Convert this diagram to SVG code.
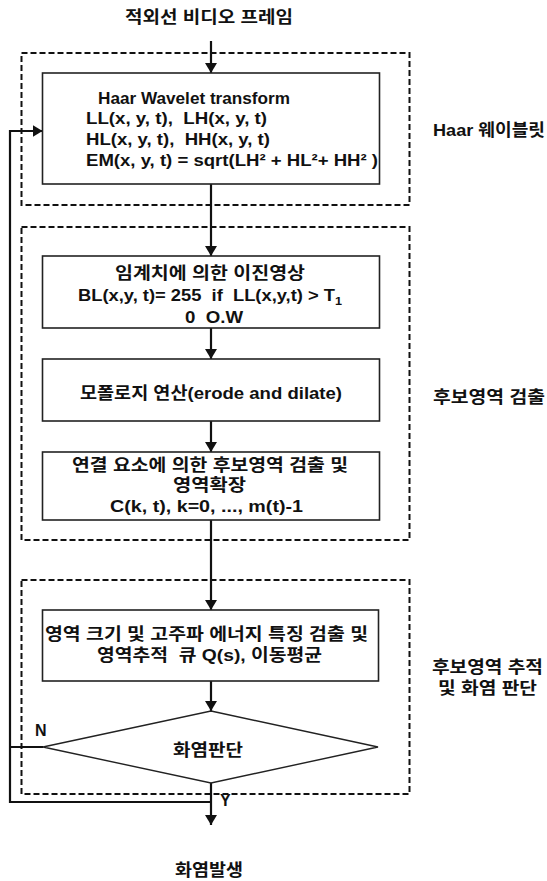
<svg xmlns="http://www.w3.org/2000/svg" width="547" height="881" viewBox="0 0 547 881">
<style>
text{font-family:"Liberation Sans","Noto Sans CJK KR",sans-serif;font-weight:bold;fill:#111;font-size:16px;white-space:pre}
.k{font-size:17px}
.mid{text-anchor:middle}
.box{fill:#fff;stroke:#222;stroke-width:1.6}
.dash{fill:none;stroke:#111;stroke-width:2;stroke-dasharray:6 3}
.con{fill:none;stroke:#111;stroke-width:2.2}
.dia{fill:#fff;stroke:#222;stroke-width:1.4}
</style>
<defs>
<marker id="ah" viewBox="0 0 10 12" refX="10" refY="6" markerWidth="10" markerHeight="12" markerUnits="userSpaceOnUse" orient="auto">
<path d="M0,0 L10,6 L0,12 Z" fill="#111"/>
</marker>
</defs>

<g id="groups">
<rect id="g-haar" class="dash" x="21.5" y="53" width="388" height="152"/>
<rect id="g-detect" class="dash" x="21.5" y="227" width="388" height="313"/>
<rect id="g-track" class="dash" x="21.5" y="580" width="388" height="214"/>
</g>

<g id="connectors">
<line class="con" x1="211" y1="41" x2="211" y2="73" marker-end="url(#ah)"/>
<line class="con" x1="211" y1="184" x2="211" y2="256" marker-end="url(#ah)"/>
<line class="con" x1="211" y1="328" x2="211" y2="359" marker-end="url(#ah)"/>
<line class="con" x1="211" y1="421" x2="211" y2="452" marker-end="url(#ah)"/>
<line class="con" x1="211" y1="520" x2="211" y2="610" marker-end="url(#ah)"/>
<line class="con" x1="211" y1="681" x2="211" y2="711" marker-end="url(#ah)"/>
<line class="con" x1="211" y1="783" x2="211" y2="825" marker-end="url(#ah)"/>
<path class="con" d="M43,747 H10"/>
<path class="con" d="M211,802 H10 V131 H42.5" marker-end="url(#ah)"/>
</g>

<g id="title">
<text class="k mid" x="209" y="23" textLength="168" lengthAdjust="spacingAndGlyphs">적외선 비디오 프레임</text>
</g>

<g id="n-haar">
<rect class="box" x="42.5" y="73" width="337" height="111"/>
<text x="98" y="104" textLength="192" lengthAdjust="spacingAndGlyphs">Haar Wavelet transform</text>
<text x="86" y="124" textLength="181" lengthAdjust="spacingAndGlyphs" xml:space="preserve">LL(x, y, t),  LH(x, y, t)</text>
<text x="86" y="145" textLength="184" lengthAdjust="spacingAndGlyphs" xml:space="preserve">HL(x, y, t),  HH(x, y, t)</text>
<text x="86" y="166" textLength="292" lengthAdjust="spacingAndGlyphs">EM(x, y, t) = sqrt(LH² + HL²+ HH² )</text>
</g>

<g id="n-binary">
<rect class="box" x="42.5" y="256" width="337" height="72"/>
<text class="k" x="115" y="279" textLength="190" lengthAdjust="spacingAndGlyphs">임계치에 의한 이진영상</text>
<text x="78" y="301" textLength="264" lengthAdjust="spacingAndGlyphs" xml:space="preserve">BL(x,y, t)= 255  if  LL(x,y,t) &gt; T<tspan font-size="11" dy="4">1</tspan></text>
<text x="185" y="323" textLength="58" lengthAdjust="spacingAndGlyphs" xml:space="preserve">0  O.W</text>
</g>

<g id="n-morph">
<rect class="box" x="42.5" y="359" width="337" height="62"/>
<text class="k" x="80" y="399" textLength="262" lengthAdjust="spacingAndGlyphs">모폴로지 연산(erode and dilate)</text>
</g>

<g id="n-label">
<rect class="box" x="42.5" y="452" width="337" height="68"/>
<text class="k" x="72" y="471" textLength="276" lengthAdjust="spacingAndGlyphs">연결 요소에 의한 후보영역 검출 및</text>
<text class="k" x="173" y="491" textLength="73" lengthAdjust="spacingAndGlyphs">영역확장</text>
<text x="110" y="512" textLength="193" lengthAdjust="spacingAndGlyphs">C(k, t), k=0, ..., m(t)-1</text>
</g>

<g id="n-track">
<rect class="box" x="42.5" y="610" width="336" height="71"/>
<text class="k" x="45" y="640" textLength="323" lengthAdjust="spacingAndGlyphs">영역 크기 및 고주파 에너지 특징 검출 및</text>
<text class="k" x="97" y="661" textLength="225" lengthAdjust="spacingAndGlyphs" xml:space="preserve">영역추적  큐 Q(s), 이동평균</text>
</g>

<g id="n-decision">
<polygon class="dia" points="211,711 378,747 211,783 43,747"/>
<text class="k" x="173" y="756" textLength="70" lengthAdjust="spacingAndGlyphs">화염판단</text>
<text x="35" y="736">N</text>
<text x="220" y="806">Y</text>
</g>

<g id="n-fire">
<text class="k" x="175" y="876" textLength="68" lengthAdjust="spacingAndGlyphs">화염발생</text>
</g>

<g id="labels">
<text class="k" x="433" y="136" textLength="112" lengthAdjust="spacingAndGlyphs">Haar 웨이블릿</text>
<text class="k" x="433" y="403" textLength="112" lengthAdjust="spacingAndGlyphs">후보영역 검출</text>
<text class="k" x="432" y="673" textLength="111" lengthAdjust="spacingAndGlyphs">후보영역 추적</text>
<text class="k" x="438" y="694" textLength="99" lengthAdjust="spacingAndGlyphs">및 화염 판단</text>
</g>
</svg>
